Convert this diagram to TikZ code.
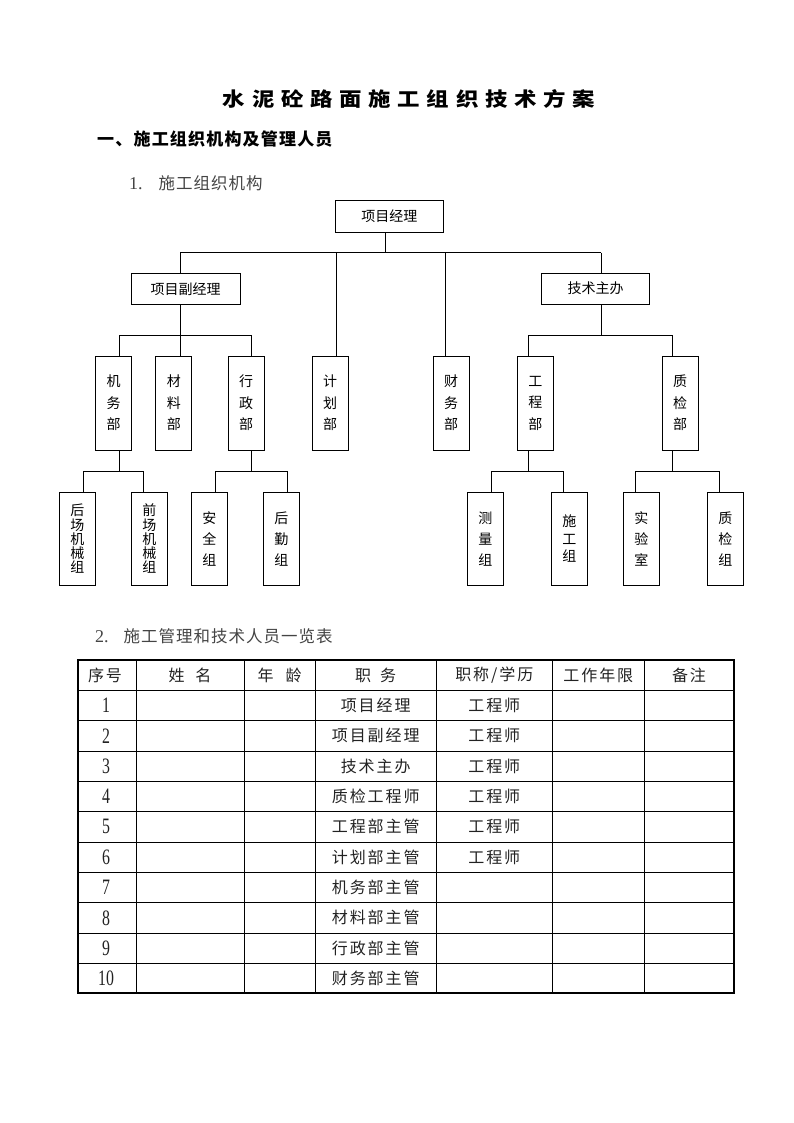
\documentclass[tikz,border=0pt]{standalone}
\usepackage{fontspec}
\usepackage{graphicx}
\setmainfont{Liberation Serif}
\newfontfamily\cjk{Noto Sans CJK SC}
\newfontfamily\cjkt{Noto Sans CJK SC}[LetterSpace=30]
\newfontfamily\cjkh{Noto Sans CJK SC}[LetterSpace=7]
\newfontfamily\cjks{Noto Sans CJK SC}[LetterSpace=6]
\newfontfamily\cjktab{Noto Sans CJK SC}[LetterSpace=12]
\definecolor{txtgray}{HTML}{444444}
\definecolor{tabtxt}{HTML}{222222}
\begin{document}
\begin{tikzpicture}[x=1pt,y=-1pt,
  hbox/.style={draw, line width=0.9pt, minimum width=108pt, minimum height=31.5pt, inner sep=0pt, font=\cjk\fontsize{14}{14}\selectfont},
  vbox/.style={draw, line width=0.9pt, minimum width=36pt, inner sep=0pt, align=center},
  midbox/.style={vbox, minimum height=94pt, font=\cjk\fontsize{14}{21.5}\selectfont},
  lowbox/.style={vbox, minimum height=93pt, font=\cjk\fontsize{14}{21}\selectfont},
  longbox/.style={vbox, minimum height=93pt, font=\cjk\fontsize{14}{14.2}\selectfont},
  conn/.style={line width=0.9pt},
  tabline/.style={line width=0.8pt},
  tabcell/.style={inner sep=0pt, text=tabtxt, font=\cjktab\fontsize{16}{16}\selectfont},
  numcell/.style={inner sep=0pt, text=tabtxt, font=\rmfamily\fontsize{22}{22}\selectfont}]
\useasboundingbox (0,0) rectangle (794,1123);

% ---------- titles ----------
\node (title) at (409,99) {\scalebox{1.15}[1]{\cjkt\bfseries\fontsize{19.5}{19.5}\selectfont 水泥砼路面施工组织技术方案}};
\node[anchor=west, inner sep=0pt] (h1) at (97,139.5) {\cjkh\bfseries\fontsize{17}{17}\selectfont 一、施工组织机构及管理人员};
\node[anchor=west, inner sep=0pt, text=txtgray] (h11) at (129,183) {{\rmfamily\fontsize{18}{18}\selectfont 1.}\hspace{16pt}{\cjks\fontsize{16.5}{16.5}\selectfont 施工组织机构}};
\node[anchor=west, inner sep=0pt, text=txtgray] (h12) at (95,636.7) {{\rmfamily\fontsize{18}{18}\selectfont 2.}\hspace{15pt}{\cjks\fontsize{16.5}{16.5}\selectfont 施工管理和技术人员一览表}};

% ---------- org chart boxes ----------
\node[hbox, minimum width=108.3pt, minimum height=32.3pt] (pm) at (389.3,216.2) {项目经理};
\node[hbox, minimum width=109pt] (vpm) at (185.5,288.7) {项目副经理};
\node[hbox] (tech) at (595.5,288.7) {技术主办};

\node[midbox] (jw) at (113.6,403) {机\\务\\部};
\node[midbox] (cl) at (173.8,403) {材\\料\\部};
\node[midbox] (xz) at (246,403) {行\\政\\部};
\node[midbox] (jh) at (330,403) {计\\划\\部};
\node[midbox] (cw) at (451,403) {财\\务\\部};
\node[midbox] (gc) at (535.3,403) {工\\程\\部};
\node[midbox] (zj) at (680,403) {质\\检\\部};

\node[longbox] (hc) at (77.3,538.8) {后\\场\\机\\械\\组};
\node[longbox] (qc) at (149.3,538.8) {前\\场\\机\\械\\组};
\node[lowbox] (aq) at (209.3,538.8) {安\\全\\组};
\node[lowbox] (hq) at (281.3,538.8) {后\\勤\\组};
\node[lowbox] (clz) at (485.3,538.8) {测\\量\\组};
\node[vbox, minimum height=93pt, font=\cjk\fontsize{14}{17.5}\selectfont] (sg) at (569.3,538.8) {施\\工\\组};
\node[lowbox] (sy) at (641.3,538.8) {实\\验\\室};
\node[lowbox] (zjz) at (725.3,538.8) {质\\检\\组};

% ---------- connectors ----------
\coordinate (t0) at (385,252.5);
\coordinate (tA) at (180,252.5);
\coordinate (tB) at (601,252.5);
\coordinate (tC) at (336,252.5);
\coordinate (tD) at (445,252.5);
\draw[conn] (pm.south -| t0) -- (t0);
\draw[conn] (tA) -- (tB);
\draw[conn] (tA) -- (vpm.north -| tA);
\draw[conn] (tB) -- (tech.north -| tB);
\draw[conn] (tC) -- (jh.north -| tC);
\draw[conn] (tD) -- (cw.north -| tD);

\coordinate (lA) at (119.5,335);
\coordinate (lB) at (180,335);
\coordinate (lC) at (251.5,335);
\draw[conn] (vpm.south -| lB) -- (lB);
\draw[conn] (lA) -- (lC);
\draw[conn] (lA) -- (jw.north -| lA);
\draw[conn] (lB) -- (cl.north -| lB);
\draw[conn] (lC) -- (xz.north -| lC);

\coordinate (rA) at (528.5,335);
\coordinate (rB) at (601,335);
\coordinate (rC) at (672.5,335);
\draw[conn] (tech.south -| rB) -- (rB);
\draw[conn] (rA) -- (rC);
\draw[conn] (rA) -- (gc.north -| rA);
\draw[conn] (rC) -- (zj.north -| rC);

\coordinate (jA) at (83.3,471);
\coordinate (jB) at (119.5,471);
\coordinate (jC) at (143.3,471);
\draw[conn] (jw.south -| jB) -- (jB);
\draw[conn] (jA) -- (jC);
\draw[conn] (jA) -- (hc.north -| jA);
\draw[conn] (jC) -- (qc.north -| jC);

\coordinate (xA) at (215.3,471);
\coordinate (xB) at (251.5,471);
\coordinate (xC) at (287.3,471);
\draw[conn] (xz.south -| xB) -- (xB);
\draw[conn] (xA) -- (xC);
\draw[conn] (xA) -- (aq.north -| xA);
\draw[conn] (xC) -- (hq.north -| xC);

\coordinate (gA) at (491.3,471);
\coordinate (gB) at (528.5,471);
\coordinate (gC) at (563.3,471);
\draw[conn] (gc.south -| gB) -- (gB);
\draw[conn] (gA) -- (gC);
\draw[conn] (gA) -- (clz.north -| gA);
\draw[conn] (gC) -- (sg.north -| gC);

\coordinate (zA) at (635.3,471);
\coordinate (zB) at (672.5,471);
\coordinate (zC) at (719.3,471);
\draw[conn] (zj.south -| zB) -- (zB);
\draw[conn] (zA) -- (zC);
\draw[conn] (zA) -- (sy.north -| zA);
\draw[conn] (zC) -- (zjz.north -| zC);

% ---------- table ----------
\foreach \k in {1,...,10} {
  \draw[tabline] (78,{660+30.33*\k}) -- (734,{660+30.33*\k});
}
\foreach \cx in {136,244,315.5,436,552.7,644} {
  \draw[tabline] (\cx,660) -- (\cx,993.3);
}
\draw[line width=2.2pt] (78,660) rectangle (734,993.3);

\node[tabcell] (hd1) at (105,675.2) {序号};
\node[tabcell] (hd2) at (190,675.2) {姓\hspace{11pt}名};
\node[tabcell] (hd3) at (279.7,675.2) {年\hspace{12pt}龄};
\node[tabcell] (hd4) at (375.7,675.2) {职\hspace{9pt}务};
\node[tabcell] (hd5) at (494.3,675.2) {职称/学历};
\node[tabcell] (hd6) at (598.3,675.2) {工作年限};
\node[tabcell] (hd7) at (689,675.2) {备注};

\foreach \job [count=\i] in {项目经理,项目副经理,技术主办,质检工程师,工程部主管,计划部主管,机务部主管,材料部主管,行政部主管,财务部主管} {
  \node[numcell] (n\i) at (106,{675.2+30.33*\i}) {\scalebox{0.72}[1]{\i}};
  \node[tabcell] (j\i) at (375.7,{675.2+30.33*\i}) {\job};
}
\foreach \i in {1,...,6} {
  \node[tabcell] (t\i) at (494.3,{675.2+30.33*\i}) {工程师};
}
\end{tikzpicture}
\end{document}
